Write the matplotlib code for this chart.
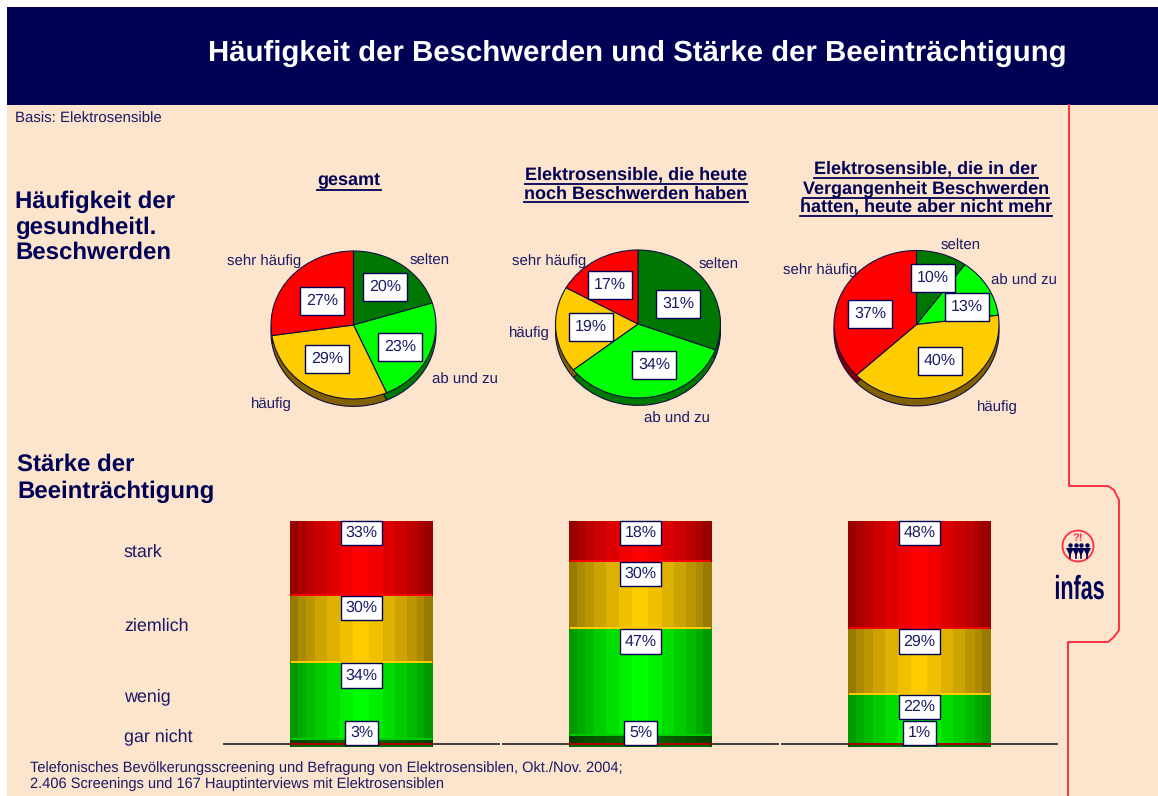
import matplotlib
matplotlib.use("Agg")
import matplotlib.pyplot as plt
import matplotlib.patheffects as pe
from matplotlib.lines import Line2D
from matplotlib.patches import Rectangle, Circle
from matplotlib.transforms import Affine2D

W, H = 1158, 796
NAVY = "#000055"
TXT = "#1a1a66"
PEACH = "#fde4cd"
RED_LINE = "#ff3040"

plt.rcParams["font.family"] = ["Liberation Sans", "DejaVu Sans"]
plt.rcParams["text.hinting"] = "none"

# pie data
slices = ["selten", "ab und zu", "häufig", "sehr häufig"]
pie_gesamt = [20, 23, 29, 27]
pie_heute = [31, 34, 19, 17]
pie_frueher = [10, 13, 40, 37]
pie_top = ["#007700", "#00ff00", "#ffcc00", "#ff0000"]
pie_side = ["#005500", "#007700", "#806000", "#800000"]

# stacked bars, bottom to top
levels = ["gar nicht", "wenig", "ziemlich", "stark"]
bar_gesamt = [3, 34, 30, 33]
bar_heute = [5, 47, 30, 18]
bar_frueher = [1, 22, 29, 48]
bar_rgb = [(0, 0.42, 0), (0, 1, 0), (1, 0.8, 0), (1, 0, 0)]
bar_line = [(0, 0.42, 0), (0, 0.8, 0), (1, 0.8, 0), (1, 0, 0)]

# cylinder look: band edges across the bar and their brightness
band_edges = [0, .054, .112, .175, .261, .35, .438, .552, .653, .734, .816, .886, .937, 1]
band_shade = [.6, .67, .73, .8, .87, .94, 1, .94, .87, .8, .73, .67, .6]


class StretchY(pe.AbstractPathEffect):
    # tall narrow lettering of the logo, the text stays text
    def __init__(self, base, factor):
        super().__init__()
        self.base = base
        self.factor = factor

    def draw_path(self, renderer, gc, tpath, affine, rgbFace=None):
        st = Affine2D().translate(0, -self.base).scale(1, self.factor).translate(0, self.base)
        renderer.draw_path(gc, tpath, affine + st, rgbFace)


def px(x, y):
    return x / W, 1 - y / H


def put(x, y, s, **kw):
    kw.setdefault("color", TXT)
    kw.setdefault("va", "center")
    return fig.text(*px(x, y + 1), s, **kw)


def underlined(x, y, s):
    t = put(x, y, s, ha="center", fontsize=13, fontweight="bold", color=NAVY)
    bb = t.get_window_extent(fig.canvas.get_renderer())
    yy = 1 - (y + 9.5) / H
    fig.add_artist(Line2D([bb.x0 / W, bb.x1 / W], [yy, yy], color=NAVY, lw=1.3))


def box(x, y, s):
    put(x, y, s, ha="center", fontsize=11.5,
        bbox=dict(boxstyle="square,pad=0.38", fc="white", ec=NAVY, lw=1))


fig = plt.figure(figsize=(W / 100, H / 100), dpi=100, facecolor="white")

# background, header band, red frame line, logo
bg = fig.add_axes([0, 0, 1, 1], zorder=-1)
bg.set_xlim(0, W)
bg.set_ylim(H, 0)
bg.axis("off")
bg.add_patch(Rectangle((7, 7), W - 7, H - 7, fc=PEACH, ec="none"))
bg.add_patch(Rectangle((7, 7), W - 7, 98, fc=NAVY, ec="none"))
bg.plot([1069, 1069, 1108, 1114, 1119, 1119, 1114, 1108, 1068, 1068],
        [105, 486, 486, 490, 500, 630, 637, 642, 642, 796], color=RED_LINE, lw=1.4)
bg.add_patch(Circle((1078, 546), 15.5, fc="none", ec=RED_LINE, lw=1.3))
for xp in [1070, 1075.5, 1081, 1086.5]:
    bg.plot([xp], [545], "o", ms=3.2, color=NAVY, mew=0)
    bg.plot([xp], [552], "v", ms=6, color=NAVY, mew=0)
    bg.plot([xp, xp], [552, 558], color=NAVY, lw=1.2)

# pies
pie_boxes = [[353.5, 325], [638, 324], [916.5, 324.5]]
for (cx, cy), vals in zip(pie_boxes, [pie_gesamt, pie_heute, pie_frueher]):
    ax = fig.add_axes([(cx - 83) / W, 1 - (cy + 83) / H, 166 / W, 166 / H])
    ax.pie(vals, colors=pie_side, startangle=90, counterclock=False, radius=1,
           center=(0, -0.1), wedgeprops=dict(edgecolor="#101040", lw=0.8))
    ax.pie(vals, colors=pie_top, startangle=90, counterclock=False, radius=1,
           wedgeprops=dict(edgecolor="#101040", lw=0.8))
    ax.set_aspect("auto")
    ax.set_xlim(-83 / 82.5, 83 / 82.5)
    ax.set_ylim(-83 / 74, 83 / 74)

# stacked cylinders
ax = fig.add_axes([222 / W, 1 - 747 / H, 837 / W, 226 / H])
ax.set_xlim(-0.5, 2.5)
ax.set_ylim(0, 100)
ax.axis("off")
bar_w = 0.5125
for i, vals in enumerate([bar_gesamt, bar_heute, bar_frueher]):
    ax.hlines(1.3, i - 0.497, i + 0.495, color="#202020", lw=1.2, zorder=1)
    x0 = i - bar_w / 2
    bottom = 0
    for val, rgb, line in zip(vals, bar_rgb, bar_line):
        for k, shade in enumerate(band_shade):
            c = [v * shade for v in rgb]
            ax.bar(x0 + band_edges[k] * bar_w, val, (band_edges[k + 1] - band_edges[k]) * bar_w,
                   bottom=bottom, align="edge", color=c, lw=0, antialiased=False, zorder=2)
        ax.bar(x0 + 0.01 * bar_w, 0.9, 0.98 * bar_w, bottom=bottom,
               align="edge", color=line, lw=0, zorder=3)
        bottom += val
    ax.bar(x0, 0.9, bar_w, bottom=0.9, align="edge", color="#aa0000", lw=0, zorder=4)
    # value boxes hang from the top of their segment
    bottom = 0
    for j, val in enumerate(vals):
        top = bottom + val
        y = 6.2 if j == 0 else top - 5.4
        ax.text(i, y, f"{val}%", ha="center", va="center", fontsize=11.5, color=TXT, zorder=6,
                bbox=dict(boxstyle="square,pad=0.3", fc="white", ec=NAVY, lw=1))
        bottom = top

# texts
put(637, 52, "Häufigkeit der Beschwerden und Stärke der Beeinträchtigung", ha="center",
    color="white", fontsize=21.2, fontweight="bold")
put(15, 118, "Basis: Elektrosensible", fontsize=10.8)
for y, s in zip([201, 227, 252], ["Häufigkeit der", "gesundheitl.", "Beschwerden"]):
    put(15, y, s, fontsize=17.3, fontweight="bold", color=NAVY)
for y, s in zip([464, 491], ["Stärke der", "Beeinträchtigung"]):
    put(17, y, s, fontsize=17.3, fontweight="bold", color=NAVY)

underlined(349, 180, "gesamt")
underlined(636, 174, "Elektrosensible, die heute")
underlined(636, 193, "noch Beschwerden haben")
underlined(926, 168, "Elektrosensible, die in der")
underlined(926, 188, "Vergangenheit Beschwerden")
underlined(926, 206, "hatten, heute aber nicht mehr")

label_xy = [[(430, 260), (465, 379), (271, 403), (264, 260)],
            [(719, 264), (677, 418), (529, 332), (549, 260)],
            [(961, 245), (1024, 280), (997, 406), (820, 269)]]
box_xy = [[(385, 286), (400, 346), (327, 358), (322, 300)],
          [(678, 303), (654, 364), (591, 326), (610, 284)],
          [(933, 277), (967, 306), (940, 360), (870, 313)]]
for labs, boxes, vals in zip(label_xy, box_xy, [pie_gesamt, pie_heute, pie_frueher]):
    for (lx, ly), (bx, by), name, val in zip(labs, boxes, slices, vals):
        put(lx, ly, name, ha="center", fontsize=10.8)
        box(bx, by, f"{val}%")

for y, s in zip([736, 696, 625, 551], levels):
    put(124, y, s, fontsize=12.9)

put(30, 767, "Telefonisches Bevölkerungsscreening und Befragung von Elektrosensiblen, Okt./Nov. 2004;", fontsize=10.5)
put(30, 783, "2.406 Screenings und 167 Hauptinterviews mit Elektrosensiblen", fontsize=10.5)

# logo lettering, baseline at y=599
put(1079.5, 598, "infas", ha="center", va="baseline", fontsize=15.5, fontweight="bold", color=NAVY,
    path_effects=[StretchY(H - 599, 1.55)])
put(1078, 537, "?!", ha="center", fontsize=8, fontweight="bold", color=RED_LINE)

fig.savefig("out.png", dpi=100, facecolor=fig.get_facecolor())
